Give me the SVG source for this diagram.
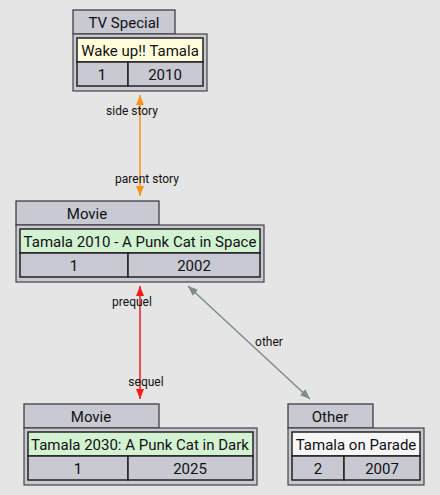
<svg xmlns="http://www.w3.org/2000/svg" width="440" height="495" viewBox="0 0 440 495">
<defs>
<style>
.bg{fill:#e5e5e5}
.tab{fill:#c8c9d2;stroke:#333;stroke-width:1.2}
.outer{fill:#c8c9d2;stroke:#444;stroke-width:1.2}
.cell{fill:#c8c9d2;stroke:#222;stroke-width:1.5}
.t{font-family:Roboto,"Liberation Sans",sans-serif;font-size:15px;fill:#111;text-anchor:middle}
.l{font-family:Roboto,"Liberation Sans",sans-serif;font-size:12px;fill:#111;text-anchor:middle}
.yellow{fill:#fffddc}
.green{fill:#d2f2d2}
.white{fill:#f6f6f6}
</style>
<marker id="ao" viewBox="0 0 10 10" refX="10" refY="5" markerWidth="10" markerHeight="10" orient="auto-start-reverse" markerUnits="userSpaceOnUse"><path d="M0,1 L10,5 L0,9 z" fill="#f7941d"/></marker>
<marker id="ar" viewBox="0 0 10 10" refX="10" refY="5" markerWidth="10" markerHeight="10" orient="auto-start-reverse" markerUnits="userSpaceOnUse"><path d="M0,1 L10,5 L0,9 z" fill="#ff1a1a"/></marker>
<marker id="ag" viewBox="0 0 10 10" refX="10" refY="5" markerWidth="10" markerHeight="10" orient="auto-start-reverse" markerUnits="userSpaceOnUse"><path d="M0,1 L10,5 L0,9 z" fill="#7f8c8d"/></marker>
</defs>
<rect class="bg" x="0" y="0" width="440" height="495"/>

<g id="edges">
<line x1="140" y1="95" x2="140" y2="196" stroke="#f7941d" stroke-width="1.5" marker-start="url(#ao)" marker-end="url(#ao)"/>
<text class="l" x="132" y="115">side story</text>
<text class="l" x="147" y="183">parent story</text>
<line x1="140" y1="286" x2="140" y2="399" stroke="#ff1a1a" stroke-width="1.5" marker-start="url(#ar)" marker-end="url(#ar)"/>
<text class="l" x="132" y="306">prequel</text>
<text class="l" x="146" y="386">sequel</text>
<line x1="188" y1="286" x2="310" y2="399" stroke="#7f8c8d" stroke-width="1.5" marker-start="url(#ag)" marker-end="url(#ag)"/>
<text class="l" x="269" y="346">other</text>
</g>

<g id="tv-special">
<rect class="tab" x="73" y="10" width="102" height="24"/>
<text class="t" x="124" y="27.5">TV Special</text>
<rect class="outer" x="73" y="34" width="134" height="57"/>
<rect class="cell yellow" x="77" y="38" width="126" height="24"/>
<text class="t" x="140" y="55.5">Wake up!! Tamala</text>
<rect class="cell" x="77" y="62" width="51" height="24"/>
<rect class="cell" x="128" y="62" width="75" height="24"/>
<text class="t" x="102" y="79.5">1</text>
<text class="t" x="165" y="79.5">2010</text>
</g>

<g id="movie-2010">
<rect class="tab" x="16" y="201" width="143" height="24"/>
<text class="t" x="87" y="218.5">Movie</text>
<rect class="outer" x="16" y="225" width="248" height="57"/>
<rect class="cell green" x="20" y="229" width="240" height="24"/>
<text class="t" x="140" y="246.5">Tamala 2010 - A Punk Cat in Space</text>
<rect class="cell" x="20" y="253" width="108" height="24"/>
<rect class="cell" x="128" y="253" width="132" height="24"/>
<text class="t" x="74" y="270.5">1</text>
<text class="t" x="194" y="270.5">2002</text>
</g>

<g id="movie-2030">
<rect class="tab" x="24" y="404" width="135" height="24"/>
<text class="t" x="91" y="421.5">Movie</text>
<rect class="outer" x="24" y="428" width="233" height="57"/>
<rect class="cell green" x="28" y="432" width="225" height="24"/>
<text class="t" x="140" y="449.5">Tamala 2030: A Punk Cat in Dark</text>
<rect class="cell" x="28" y="456" width="100" height="24"/>
<rect class="cell" x="128" y="456" width="125" height="24"/>
<text class="t" x="78" y="473.5">1</text>
<text class="t" x="190" y="473.5">2025</text>
</g>

<g id="other">
<rect class="tab" x="288" y="404" width="85" height="24"/>
<text class="t" x="330" y="421.5">Other</text>
<rect class="outer" x="288" y="428" width="136" height="57"/>
<rect class="cell white" x="292" y="432" width="128" height="24"/>
<text class="t" x="356" y="449.5">Tamala on Parade</text>
<rect class="cell" x="292" y="456" width="52" height="24"/>
<rect class="cell" x="344" y="456" width="76" height="24"/>
<text class="t" x="318" y="473.5">2</text>
<text class="t" x="382" y="473.5">2007</text>
</g>
</svg>
